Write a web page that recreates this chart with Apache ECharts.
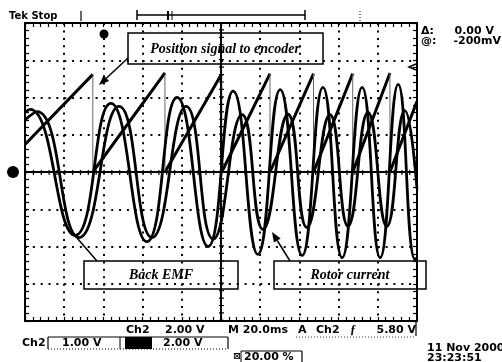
<!DOCTYPE html>
<html>
<head>
<meta charset="utf-8">
<title>Scope capture</title>
<script src="https://cdn.jsdelivr.net/npm/echarts@6/dist/echarts.min.js"></script>
<style>
html, body { margin: 0; padding: 0; background: #fff; }
#scope { width: 502px; height: 362px; }
</style>
</head>
<body>
<div id="scope"></div>
<script>
// readings in screen divisions: x 0..10 (20 ms/div), y -4..4 around the ch2 ground marker
var sawEdgeX = [0, 1.73, 3.57, 5.02, 6.25, 7.36, 8.36, 9.31, 10]
var sawLowY = [0.74, 0, 0, 0, 0, 0, 0, 0]
var sawHighY = [2.62, 2.66, 2.64, 2.64, 2.64, 2.64, 2.66, 1.90]

// peaks and troughs of the two sine traces
var emfX = [0, 0.13, 1.28, 2.19, 3.11, 3.88, 4.67, 5.31, 5.94, 6.51, 7.07, 7.60, 8.09, 8.60, 9.06, 9.52, 9.95, 10]
var emfY = [1.60, 1.68, -1.70, 1.84, -1.87, 2.00, -2.00, 2.17, -2.21, 2.21, -2.24, 2.27, -2.30, 2.27, -2.30, 2.35, -2.35, -2.30]

var curX = [0, 0.31, 1.38, 2.40, 3.24, 4.11, 4.80, 5.54, 6.07, 6.71, 7.19, 7.78, 8.24, 8.75, 9.23, 9.69, 10]
var curY = [1.40, 1.62, -1.76, 1.76, -1.76, 1.76, -1.80, 1.54, -1.54, 1.55, -1.49, 1.54, -1.45, 1.60, -1.46, 1.65, -0.45]

var ink = '#000'
var bold = 'bold 11px "DejaVu Sans", sans-serif'
var note = 'italic bold 14px "Liberation Serif", "Times New Roman", serif'

function pairs (xs, ys) {
  var out = []
  for (var i = 0; i < xs.length; i++) out.push([xs[i], ys[i]])
  return out
}

var ramps = []
var drops = []
for (var i = 0; i < sawLowY.length; i++) {
  ramps.push([sawEdgeX[i], sawLowY[i]], [sawEdgeX[i + 1], sawHighY[i]], [sawEdgeX[i + 1], '-'])
  if (i < sawLowY.length - 1) {
    drops.push([sawEdgeX[i + 1], sawHighY[i]], [sawEdgeX[i + 1], 0], [sawEdgeX[i + 1], '-'])
  }
}

function txt (x, y, s, font, align) {
  return { type: 'text', x: x, y: y, silent: true,
    style: { text: s, font: font || bold, fill: ink, textAlign: align || 'left', textVerticalAlign: 'middle' } }
}
function seg (x1, y1, x2, y2, w, dash) {
  return { type: 'line', silent: true, shape: { x1: x1, y1: y1, x2: x2, y2: y2 },
    style: { stroke: ink, lineWidth: w || 1.5, lineDash: dash || null } }
}
function box (x, y, w, h, fill) {
  return { type: 'rect', silent: true, shape: { x: x, y: y, width: w, height: h },
    style: { fill: fill || '#fff', stroke: ink, lineWidth: 1.5 } }
}
function arrow (x1, y1, x2, y2) {
  var a = Math.atan2(y2 - y1, x2 - x1)
  var bx = x2 - 10 * Math.cos(a)
  var by = y2 - 10 * Math.sin(a)
  return [seg(x1, y1, bx, by, 1.5), { type: 'polygon', silent: true,
    shape: { points: [[x2, y2], [bx - 4 * Math.sin(a), by + 4 * Math.cos(a)], [bx + 4 * Math.sin(a), by - 4 * Math.cos(a)]] },
    style: { fill: ink } }]
}

var deco = [
  txt(9, 16, 'Tek Stop', 'bold 10px "DejaVu Sans", sans-serif'),
  seg(81, 11, 81, 21, 1.2),
  seg(137, 15, 305, 15, 1.5), seg(137, 10, 137, 20, 1.5), seg(305, 10, 305, 20, 1.5),
  seg(168, 11, 168, 20, 2), seg(172, 11, 172, 20, 1),
  seg(360, 11, 360, 21, 1, [1, 2]),
  { type: 'circle', silent: true, shape: { cx: 104, cy: 34, r: 4.5 }, style: { fill: ink } },
  { type: 'circle', silent: true, shape: { cx: 13, cy: 172, r: 6 }, style: { fill: ink } },
  txt(13, 172, '2', 'bold 8px "DejaVu Sans", sans-serif', 'center'),
  { type: 'polyline', silent: true, shape: { points: [[416, 64], [409, 67], [416, 70]] }, style: { stroke: ink, lineWidth: 1.5, fill: null } },
  txt(421, 31, '\u0394:'), txt(494, 31, '0.00 V', bold, 'right'),
  txt(421, 41, '@:'), txt(501, 41, '-200mV', bold, 'right'),
  box(128, 33, 195, 31), txt(225, 49, 'Position signal to encoder', note, 'center'),
  box(84, 261, 154, 28), txt(161, 275, 'Back EMF', note, 'center'),
  box(274, 261, 152, 28), txt(350, 275, 'Rotor current', note, 'center'),
  seg(97, 261, 77, 238, 1.5),
  txt(126, 330, 'Ch2'), txt(165, 330, '2.00 V'),
  txt(228, 330, 'M 20.0ms'), txt(298, 330, 'A'), txt(316, 330, 'Ch2'),
  txt(350, 330, '\u0192', 'bold italic 12px "Liberation Serif", serif'), txt(416, 330, '5.80 V', bold, 'right'),
  seg(416, 322, 416, 336, 1.2), seg(296, 337, 416, 337, 0.8, [1, 2]),
  txt(22, 343, 'Ch2'),
  seg(48, 337, 228, 337, 1), seg(48, 349, 228, 349, 1, [1, 2]),
  seg(48, 337, 48, 349, 1.2), seg(228, 337, 228, 349, 1.2), seg(120, 337, 120, 349, 1),
  txt(62, 343, '1.00 V'),
  { type: 'rect', silent: true, shape: { x: 125, y: 337, width: 27, height: 12 }, style: { fill: ink } },
  txt(163, 343, '2.00 V'),
  txt(233, 357, '\u22a0', 'bold 9px "DejaVu Sans", sans-serif'),
  seg(241, 351, 302, 351, 1), seg(302, 351, 302, 362, 1.2), seg(241, 351, 241, 362, 1),
  txt(244, 357, '20.00 %'),
  txt(427, 348, '11 Nov 2000'), txt(427, 358, '23:23:51')
].concat(arrow(128, 58, 99, 85)).concat(arrow(290, 261, 272, 232))

function edgeAxis (pos, showSplit, dots) {
  var vertical = pos === 'left' || pos === 'right'
  return {
    type: 'value', min: vertical ? -4 : 0, max: vertical ? 4 : 10, interval: 1, position: pos,
    axisLine: { show: true, onZero: false, lineStyle: { color: ink, width: 2 } },
    axisTick: { show: true, inside: true, length: 4, lineStyle: { color: ink, width: 1.2 } },
    minorTick: { show: true, splitNumber: 5, length: 4, lineStyle: { color: ink, width: 1.2 } },
    axisLabel: { show: false },
    splitLine: { show: showSplit, lineStyle: { color: ink, width: 2, type: dots } }
  }
}

var chart = echarts.init(document.getElementById('scope'))
chart.setOption({
  backgroundColor: '#fff',
  animation: false,
  grid: { left: 25, top: 23, width: 392, height: 298, show: false },
  xAxis: [edgeAxis('bottom', true, [2, 5.45]), edgeAxis('top', false)],
  yAxis: [edgeAxis('left', true, [2, 5.84]), edgeAxis('right', false)],
  series: [
    {
      name: 'Position signal to encoder', type: 'line', data: ramps, showSymbol: false,
      lineStyle: { color: ink, width: 3 },
      markLine: {
        silent: true, symbol: 'none', label: { show: false },
        data: [
          { xAxis: 5, lineStyle: { color: ink, width: 2, type: 'solid' } },
          { yAxis: 0, lineStyle: { color: ink, width: 2, type: 'solid' } },
          { xAxis: 5, lineStyle: { color: ink, width: 5, type: [1.2, 6.25] } },
          { yAxis: 0, lineStyle: { color: ink, width: 5, type: [1.2, 6.64] } }
        ]
      }
    },
    { name: 'drops', type: 'line', data: drops, showSymbol: false, lineStyle: { color: '#666', width: 1 } },
    {
      name: 'Back EMF', type: 'line', data: pairs(emfX, emfY), showSymbol: false,
      smooth: 0.5, lineStyle: { color: ink, width: 2.8 }
    },
    {
      name: 'Rotor current', type: 'line', data: pairs(curX, curY), showSymbol: false,
      smooth: 0.5, lineStyle: { color: ink, width: 2.8 }
    }
  ],
  graphic: { elements: deco }
})
</script>
</body>
</html>
